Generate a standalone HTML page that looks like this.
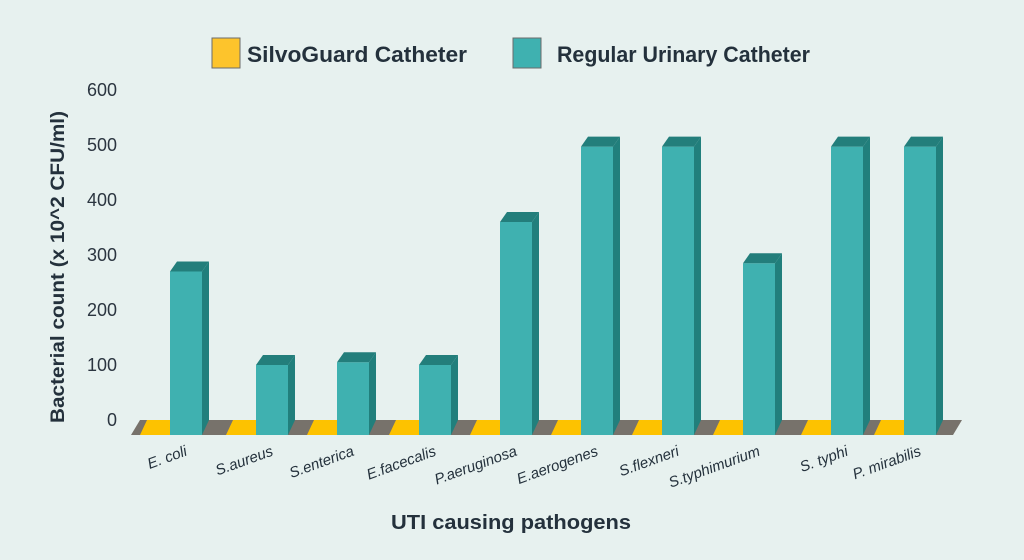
<!DOCTYPE html>
<html><head><meta charset="utf-8"><style>
html,body{margin:0;padding:0;background:#e7f1ef;}
svg{display:block;font-family:"Liberation Sans",sans-serif;}
</style></head><body>
<svg width="1024" height="560" viewBox="0 0 1024 560">
<rect width="1024" height="560" fill="#e7f1ef"/>
<rect x="212" y="38" width="28" height="30" fill="#fdc42c" stroke="#6b6b6b" stroke-width="1"/>
<text x="247" y="62" font-size="22" font-weight="bold" fill="#24313c" textLength="220" lengthAdjust="spacingAndGlyphs">SilvoGuard Catheter</text>
<rect x="513" y="38" width="28" height="30" fill="#3fb1b0" stroke="#6b6b6b" stroke-width="1"/>
<text x="557" y="62" font-size="22" font-weight="bold" fill="#24313c" textLength="253" lengthAdjust="spacingAndGlyphs">Regular Urinary Catheter</text>
<g font-size="18" fill="#2b3540" text-anchor="end">
<text x="117" y="96">600</text><text x="117" y="151">500</text><text x="117" y="206">400</text>
<text x="117" y="261">300</text><text x="117" y="316">200</text><text x="117" y="371">100</text><text x="117" y="426">0</text>
</g>
<text transform="translate(64,267) rotate(-90)" text-anchor="middle" font-size="19" font-weight="bold" fill="#24313c" textLength="312" lengthAdjust="spacingAndGlyphs">Bacterial count (x 10^2 CFU/ml)</text>
<polygon points="140,420 962,420 953,435 131,435" fill="#77726b"/>
<g id="bars"></g>
<text x="511" y="529" text-anchor="middle" font-size="20" font-weight="bold" fill="#24313c" textLength="240" lengthAdjust="spacingAndGlyphs">UTI causing pathogens</text>
</svg>
<script>
var d=[[170,270,"E. coli"],[256,100,"S.aureus"],[337,105,"S.enterica"],[419,100,"E.facecalis"],[500,360,"P.aeruginosa"],[581,497,"E.aerogenes"],[662,497,"S.flexneri"],[743,285,"S.typhimurium"],[831,497,"S. typhi"],[904,497,"P. mirabilis"]];
var s="";
d.forEach(function(b){var x=b[0],t=420-b[1]*0.55;
s+='<polygon points="'+(x-23)+',420 '+x+',420 '+x+',435 '+(x-30)+',435" fill="#fdc200"/>';
s+='<rect x="'+x+'" y="'+t+'" width="32" height="'+(435-t)+'" fill="#3fb1b0"/>';
s+='<polygon points="'+(x+32)+','+t+' '+(x+39)+','+(t-10)+' '+(x+39)+',420 '+(x+32)+',435" fill="#217f7c"/>';
s+='<polygon points="'+x+','+t+' '+(x+7)+','+(t-10)+' '+(x+39)+','+(t-10)+' '+(x+32)+','+t+'" fill="#237e7b"/>';
s+='<text transform="translate('+(x+18)+',455) rotate(-20)" text-anchor="end" font-size="15" font-style="italic" fill="#24313c">'+b[2]+'</text>';
});
document.getElementById("bars").innerHTML=s;
</script>
</body></html>
